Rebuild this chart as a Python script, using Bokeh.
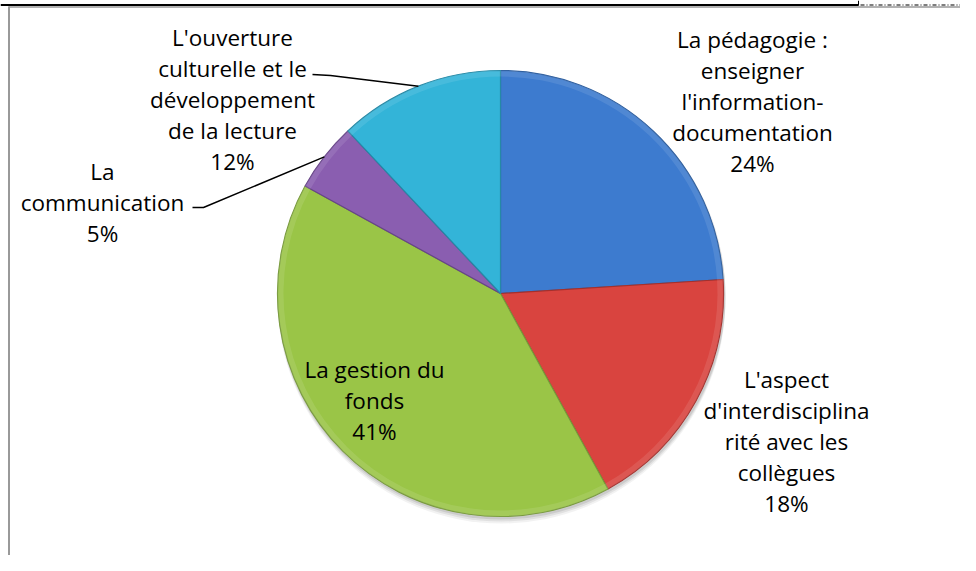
import math
from bokeh.plotting import figure
from bokeh.models import Range1d, ColumnDataSource
from bokeh.core.properties import value
from bokeh.embed import file_html
from bokeh.resources import INLINE

# ---- data ----
categories = [
    "La pédagogie :\nenseigner\nl'information-\ndocumentation",
    "L'aspect\nd'interdisciplina\nrité avec les\ncollègues",
    "La gestion du\nfonds",
    "La\ncommunication",
    "L'ouverture\nculturelle et le\ndéveloppement\nde la lecture",
]
percents = [24, 18, 41, 5, 12]
colors = ["#3D7BCF", "#D9443F", "#9AC547", "#8A5EB0", "#33B4D8"]
edge_colors = ["#2C5D9E", "#A5302C", "#77993A", "#674488", "#2589A6"]

# ---- layout (screen-like coordinates, y up) ----
W, H = 960, 555
CX, CY, R = 500, 262, 223
FONT = "Open Sans"
FS = "22.5px"
LH = 1.0

total = sum(percents)
starts, ends, mids = [], [], []
cum = 0.0
for v in percents:
    a0 = cum / total
    cum += v
    a1 = cum / total
    # clockwise from 12 o'clock
    starts.append(math.pi / 2 - 2 * math.pi * a1)
    ends.append(math.pi / 2 - 2 * math.pi * a0)
    mids.append(math.pi / 2 - 2 * math.pi * (a0 + a1) / 2)

src = ColumnDataSource(dict(start=starts, end=ends, color=colors, edge=edge_colors))

p = figure(width=W, height=H, output_backend="svg", toolbar_location=None,
           x_range=Range1d(0, W), y_range=Range1d(0, H), min_border=0)
p.axis.visible = False
p.grid.visible = False
p.outline_line_color = None
p.background_fill_color = "white"
p.border_fill_color = "white"

# soft shadow under pie
for k, a in [(6, 0.05), (4, 0.07), (2, 0.09)]:
    p.circle(x=[CX + 1], y=[CY - k], radius=R + 1, radius_units="data",
             fill_color="#000000", fill_alpha=a, line_color=None)

p.wedge(x=CX, y=CY, radius=R, start_angle="start", end_angle="end",
        fill_color="color", line_color="edge", line_width=1.2, source=src)
# light bevel highlight ring
p.annular_wedge(x=CX, y=CY, inner_radius=R - 6, outer_radius=R, start_angle="start",
                end_angle="end", fill_color="white", fill_alpha=0.10, line_color=None,
                source=src)

# labels (text = category + percent)
labels = [f"{c}\n{v}%" for c, v in zip(categories, percents)]
label_pos = [(752, 454), (786, 114), (374, 155), (102, 353), (232, 456)]
for lab, (lx, ly) in zip(labels, label_pos):
    p.text(x=[lx], y=[ly], text=[lab], text_align="center", text_baseline="middle",
           text_font=value(FONT), text_font_size=FS, text_color="#000000",
           text_line_height=LH)

# leader lines for small slices (anchored at slice mid-angle on the rim)
leader_starts = {4: [(312, 481), (330, 480)], 3: [(192, 348), (203, 348)]}
for idx, pts in leader_starts.items():
    ex = CX + R * math.cos(mids[idx])
    ey = CY + R * math.sin(mids[idx])
    xs = [pt[0] for pt in pts] + [ex]
    ys = [pt[1] for pt in pts] + [ey]
    p.line(xs, ys, line_color="#000000", line_width=1.5)

# page frame lines
p.segment(x0=[0], y0=[H - 4.5], x1=[858], y1=[H - 4.5], line_color="#000000", line_width=2)
p.segment(x0=[858], y0=[H], x1=[858], y1=[H - 5], line_color="#000000", line_width=1)
p.segment(x0=[860], y0=[H - 4.5], x1=[W], y1=[H - 4.5], line_color="#000000", line_width=1.2,
          line_dash="4 2 1 2")
p.segment(x0=[8], y0=[H - 6.5], x1=[W], y1=[H - 6.5], line_color="#999999", line_width=1.5)
p.segment(x0=[8.5], y0=[0], x1=[8.5], y1=[H - 6], line_color="#999999", line_width=2)

open("out.html", "w").write(file_html(p, INLINE))
